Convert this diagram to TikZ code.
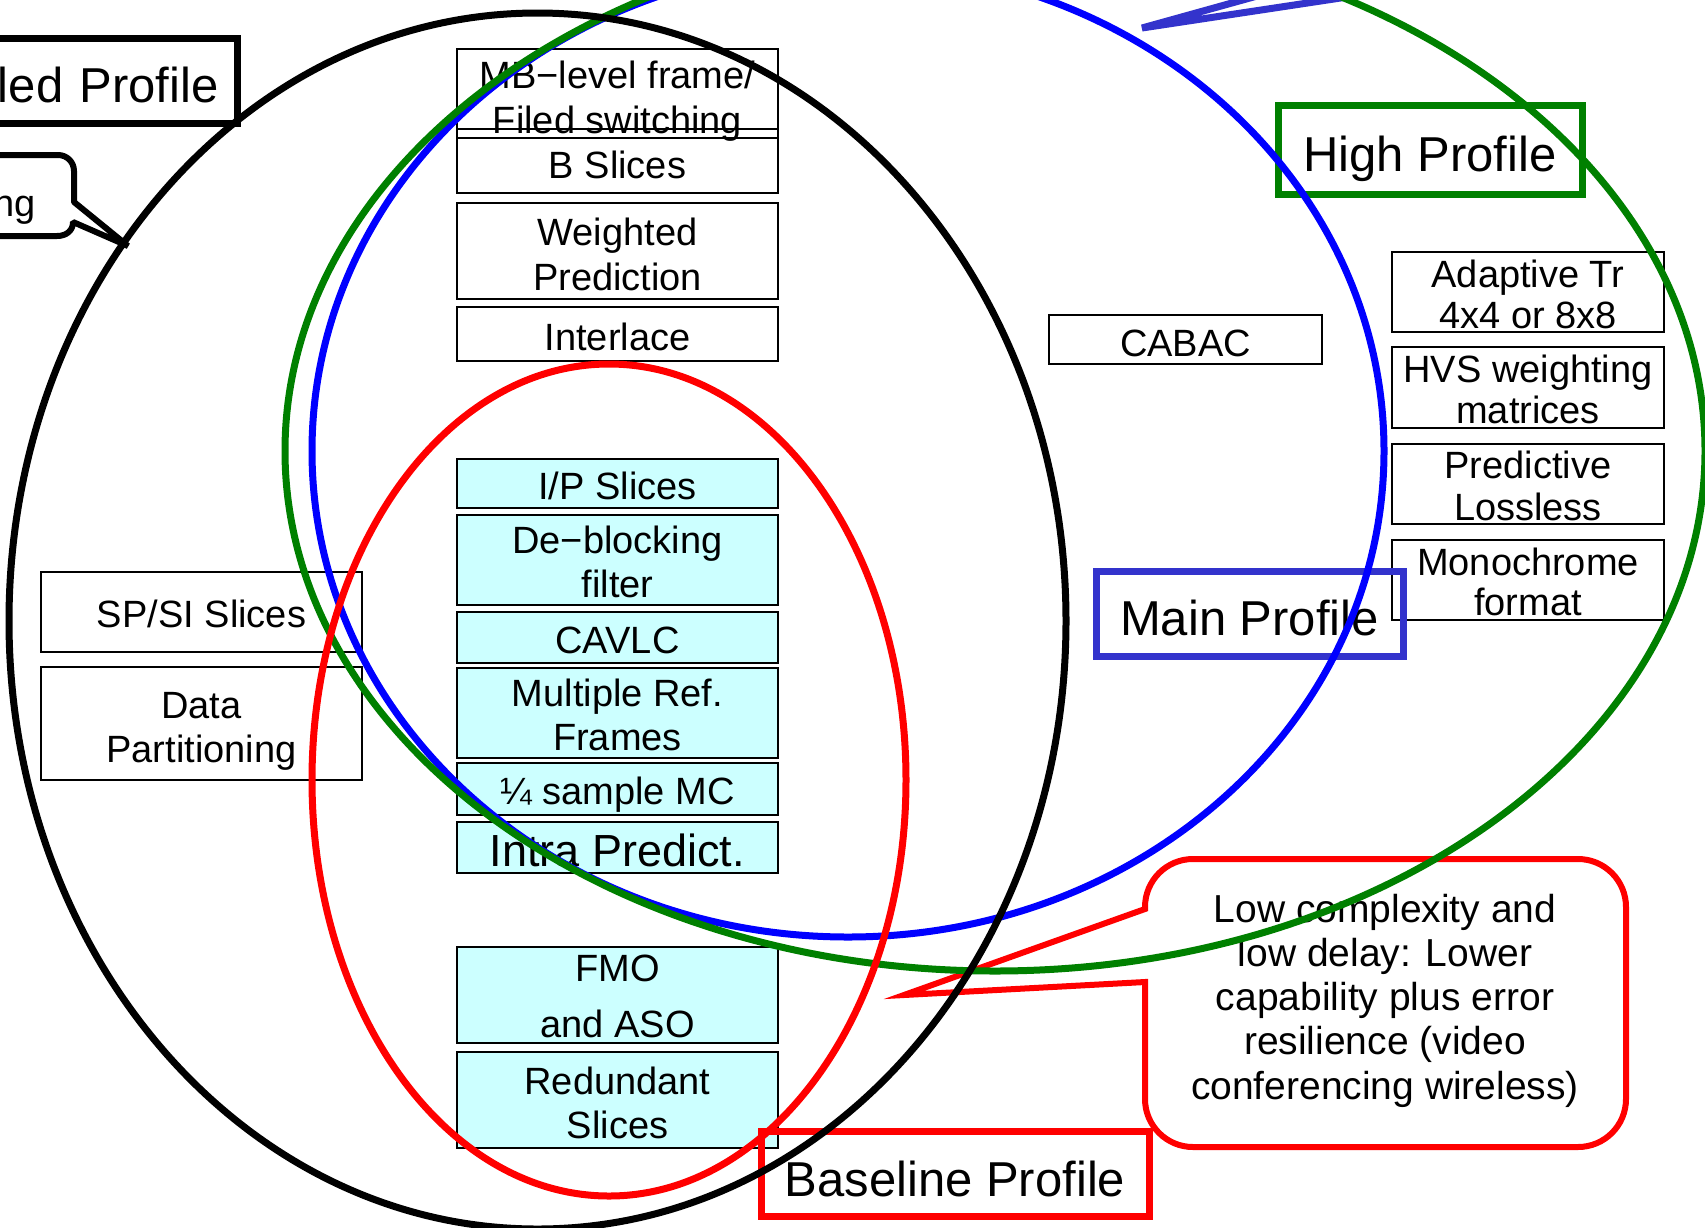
\documentclass[tikz,border=0pt]{standalone}
\usepackage{fontspec}
\setmainfont{Liberation Sans}
\definecolor{cyanfill}{RGB}{204,255,255}
\definecolor{mainblue}{RGB}{51,51,204}
\definecolor{highgreen}{RGB}{0,128,0}
% lines stacked on a common first baseline
\newcommand{\stackedlines}[1]{\begin{tabular}[t]{@{}c@{}}#1\end{tabular}}
\begin{document}
\begin{tikzpicture}[x=1pt,y=-1pt,line join=miter,
  featbox/.style={draw=black,line width=2pt,inner sep=0pt,
    minimum width=321pt,font=\fontsize{38}{44}\selectfont,text height=31pt,text depth=0pt},
  twolines/.style={text depth=#1},
  twolines/.default=44pt,
  basebox/.style={featbox,fill=cyanfill},
  rightbox/.style={featbox,minimum width=272pt,font=\fontsize{38}{41}\selectfont,
    text height=30pt,text depth=41pt},
  profbox/.style={draw=#1,line width=7pt,inner sep=0pt,font=\fontsize{49}{56}\selectfont,
    text height=44pt,text depth=0pt},
  ring/.style={draw=#1,line width=7pt},
  calloutline/.style={draw=#1,line width=6pt},
]
\useasboundingbox (0,0) rectangle (1705,1227);
\clip (0,0) rectangle (1705,1227);
\fill[white] (0,0) rectangle (1705,1227);

% ---- features shared by Main and High (top of the middle column)
\node[featbox,twolines=45pt,minimum height=89pt,font=\fontsize{38}{45}\selectfont,text height=35pt] (mbfield) at (617.5,93.5)
  {\stackedlines{MB−level frame/\\Filed switching}};
\node[featbox,minimum height=64pt,text height=35pt] (bslices) at (617.5,161) {B Slices};
\node[featbox,twolines=45pt,minimum height=96pt,font=\fontsize{38}{45}\selectfont,text height=34pt] (weighted) at (617.5,251)
  {\stackedlines{Weighted\\Prediction}};
\node[featbox,minimum height=54pt,text height=33pt] (interlace) at (617.5,334) {Interlace};

% ---- baseline features
\node[basebox,minimum height=49pt,text height=32pt] (ipslices) at (617.5,483.5) {I/P Slices};
\node[basebox,twolines,minimum height=90pt] (deblock) at (617.5,560) {\stackedlines{De−blocking\\filter}};
\node[basebox,minimum height=51pt,text height=32pt] (cavlc) at (617.5,637.5) {CAVLC};
\node[basebox,twolines,minimum height=90pt] (multiref) at (617.5,713) {\stackedlines{Multiple Ref.\\Frames}};
\node[basebox,minimum height=52pt] (quartermc) at (617.5,789) {¼ sample MC};
\node[basebox,minimum height=51pt,font=\fontsize{45}{50}\selectfont,text height=37pt] (intra) at (617.5,847.5) {Intra Predict.};
\node[basebox,twolines=56pt,minimum height=96pt,text height=29pt] (fmo) at (617.5,995) {\stackedlines{FMO\\[12pt]and ASO}};
\node[basebox,twolines=43pt,minimum height=96pt,text height=32pt] (redundant) at (617.5,1100) {\stackedlines{Redundant\\Slices}};

% ---- extended-only features
\node[featbox,minimum height=80pt] (spsi) at (201.5,612) {SP/SI Slices};
\node[featbox,twolines=43pt,minimum height=113pt,text height=33pt] (datapart) at (201.5,723.5) {\stackedlines{Data\\Partitioning}};

% ---- main-only feature
\node[featbox,minimum width=273pt,minimum height=49pt,text height=33pt] (cabac) at (1185.5,339.5) {CABAC};

% ---- high-only features
\node[rightbox,minimum height=80pt,text depth=40pt] (adapttr) at (1528,292) {\stackedlines{Adaptive Tr\\4x4 or 8x8}};
\node[rightbox,minimum height=81pt,text height=31pt] (hvs) at (1528,387.5) {\stackedlines{HVS weighting\\matrices}};
\node[rightbox,minimum height=80pt,text depth=42pt,font=\fontsize{38}{42}\selectfont] (lossless) at (1528,484) {\stackedlines{Predictive\\Lossless}};
\node[rightbox,minimum height=80pt,text depth=40pt,font=\fontsize{38}{40}\selectfont] (mono) at (1528,580) {\stackedlines{Monochrome\\format}};

% ---- profile labels
\node[profbox=highgreen,minimum width=304pt,minimum height=89pt] (highlbl) at (1430,149.5) {High Profile};
\node[profbox=mainblue,minimum width=307pt,minimum height=85pt] (mainlbl) at (1249.5,613.5) {Main Profile};
\node[profbox=red,minimum width=388pt,minimum height=85pt,text height=45pt] (baselbl) at (955,1174) {Baseline Profile};
\node[profbox=black,anchor=east,minimum width=300pt,minimum height=85pt,
      text width=262pt,align=right] (extlbl) at (241,80.5) {led Profile};

% ---- callout at the upper left
\coordinate (ngtip) at (128,246);
\draw[calloutline=black,line join=bevel] (-20,155) -- (58,155) .. controls (67,155) and (74,162) .. (74,171)
  -- (74,202) -- (ngtip) -- (73,222) .. controls (73,231) and (66,236) .. (57,236) -- (-20,236);
\node[anchor=base east,inner sep=0pt,font=\fontsize{38}{44}\selectfont] (ngtext) at (36,216) {ng};

% ---- pointer of the main-profile callout
\coordinate (maintip) at (1142,28);
\draw[line width=7pt,draw=mainblue] (1293,-14) -- (maintip) -- (1420,-14);

% ---- baseline callout
\coordinate (basetip) at (904,995);
\draw[calloutline=red] (1145,909) -- (basetip) -- (1145,982) -- (1145,1099)
  .. controls (1145,1125.5) and (1166.5,1147) .. (1193,1147) -- (1578,1147)
  .. controls (1604.5,1147) and (1626,1125.5) .. (1626,1099) -- (1626,907)
  .. controls (1626,880.5) and (1604.5,859) .. (1578,859) -- (1193,859)
  .. controls (1166.5,859) and (1145,880.5) .. (1145,907) -- cycle;
\node[inner sep=0pt,font=\fontsize{39}{44.25}\selectfont,text height=28pt,text depth=177pt] (basetext) at (1385,996.5)
  {\stackedlines{Low complexity and\\low delay: Lower\\capability plus error\\resilience (video\\conferencing wireless)}};

% ---- profile ellipses
\draw[ring=blue] (848,451) ellipse [x radius=536pt,y radius=486pt];
\draw[ring=highgreen] (995,451) ellipse [x radius=710pt,y radius=520pt];
\draw[ring=black] (537.5,621) ellipse [x radius=528.5pt,y radius=608pt];
\draw[ring=red] (609,780) ellipse [x radius=297pt,y radius=416pt];
\end{tikzpicture}
\end{document}
